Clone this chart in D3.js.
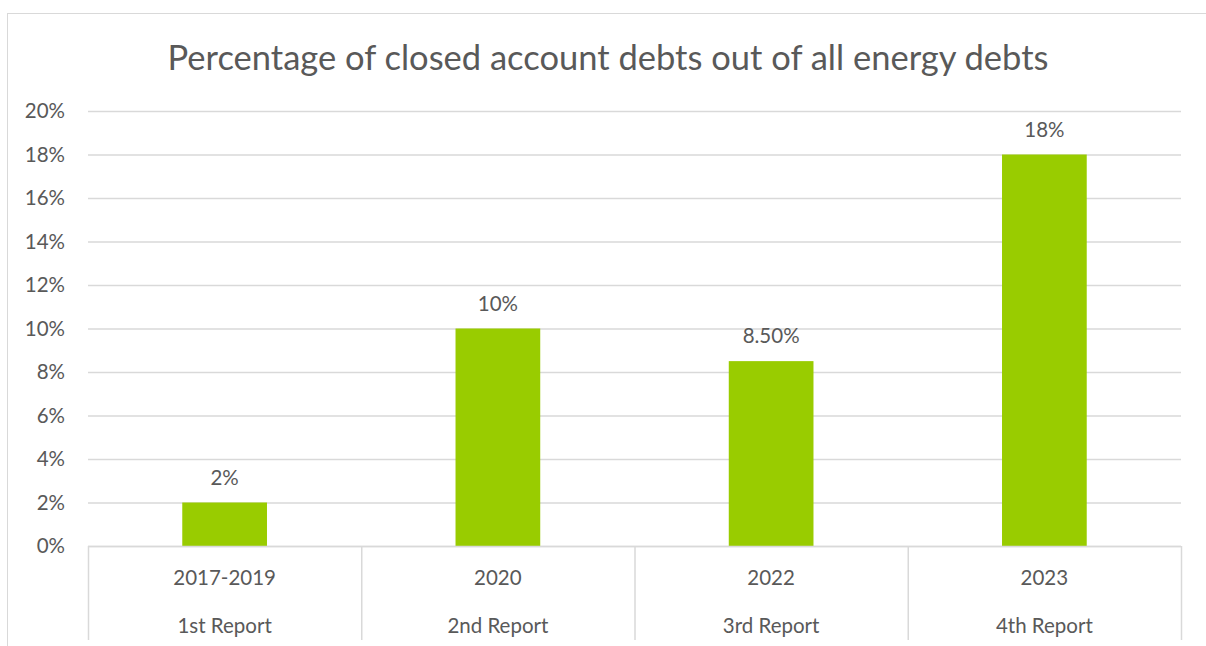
<!DOCTYPE html>
<html>
<head>
<meta charset="utf-8">
<script src="https://cdn.jsdelivr.net/npm/d3@7/dist/d3.min.js"></script>
<style>
  body { margin: 0; background: #fff; }
  text { font-family: Lato, "Open Sans", sans-serif; fill: #595959; }
</style>
</head>
<body>
<script>
let years = ['2017-2019', '2020', '2022', '2023']
let reports = ['1st Report', '2nd Report', '3rd Report', '4th Report']
let values = [2, 10, 8.5, 18]
let valueLabels = ['2%', '10%', '8.50%', '18%']
let yTicks = [0, 2, 4, 6, 8, 10, 12, 14, 16, 18, 20]

let width = 1206
let height = 646
let plotLeft = 88
let plotRight = 1181
let plotTop = 111
let plotBottom = 546
let fs = '20.5px'

let svg = d3.select('body').append('svg').attr('width', width).attr('height', height)

// chart border
svg.append('rect')
   .attr('x', 7.5).attr('y', 13.5)
   .attr('width', 1220).attr('height', 700)
   .attr('fill', 'none').attr('stroke', '#d9d9d9')

svg.append('text')
   .attr('x', 608).attr('y', 70)
   .attr('text-anchor', 'middle')
   .style('font-size', '34.5px')
   .text('Percentage of closed account debts out of all energy debts')

let xScale = d3.scaleBand()
               .domain(years)
               .range([plotLeft, plotRight])
               .paddingInner(0).paddingOuter(0)

let yScale = d3.scaleLinear()
               .domain([0, 20])
               .range([plotBottom, plotTop])

// gridlines
svg.append('g')
   .selectAll('line')
   .data(yTicks)
   .enter()
   .append('line')
   .attr('x1', plotLeft).attr('x2', plotRight)
   .attr('y1', d => yScale(d) + 0.5).attr('y2', d => yScale(d) + 0.5)
   .attr('stroke', '#d9d9d9').attr('stroke-width', 1.5)

let yAxis = d3.axisLeft(yScale)
              .tickValues(yTicks)
              .tickFormat(d => d + '%')
              .tickSize(0).tickPadding(23)

svg.append('g')
   .attr('transform', 'translate(' + plotLeft + ',0)')
   .call(yAxis)
   .call(g => g.select('.domain').remove())
   .selectAll('text')
   .style('font-size', fs)
   .attr('fill', '#595959')

// bars
let bw = xScale.bandwidth() * 0.31
svg.append('g')
   .selectAll('rect')
   .data(values)
   .enter()
   .append('rect')
   .attr('x', (d, i) => xScale(years[i]) + xScale.bandwidth() / 2 - bw / 2)
   .attr('y', d => yScale(d))
   .attr('width', bw)
   .attr('height', d => yScale(0) - yScale(d))
   .attr('fill', '#99cc00')

svg.append('g')
   .selectAll('text')
   .data(values)
   .enter()
   .append('text')
   .attr('x', (d, i) => xScale(years[i]) + xScale.bandwidth() / 2)
   .attr('y', d => yScale(d) - 18)
   .attr('text-anchor', 'middle')
   .style('font-size', fs)
   .text((d, i) => valueLabels[i])

// category axis with separators
let xg = svg.append('g')
xg.append('line')
  .attr('x1', plotLeft).attr('x2', plotRight)
  .attr('y1', plotBottom + 0.5).attr('y2', plotBottom + 0.5)
  .attr('stroke', '#d9d9d9').attr('stroke-width', 1.5)

let seps = years.map(y => xScale(y)).concat([plotRight])
xg.selectAll('.sep')
  .data(seps)
  .enter()
  .append('line')
  .attr('class', 'sep')
  .attr('x1', d => d + 0.5).attr('x2', d => d + 0.5)
  .attr('y1', plotBottom).attr('y2', 640)
  .attr('stroke', '#d9d9d9').attr('stroke-width', 1.5)

xg.selectAll('.yr')
  .data(years)
  .enter()
  .append('text')
  .attr('x', d => xScale(d) + xScale.bandwidth() / 2)
  .attr('y', 585)
  .attr('text-anchor', 'middle')
  .style('font-size', fs)
  .text(d => d)

xg.selectAll('.rp')
  .data(reports)
  .enter()
  .append('text')
  .attr('x', (d, i) => xScale(years[i]) + xScale.bandwidth() / 2)
  .attr('y', 633)
  .attr('text-anchor', 'middle')
  .style('font-size', fs)
  .text(d => d)
</script>
</body>
</html>
